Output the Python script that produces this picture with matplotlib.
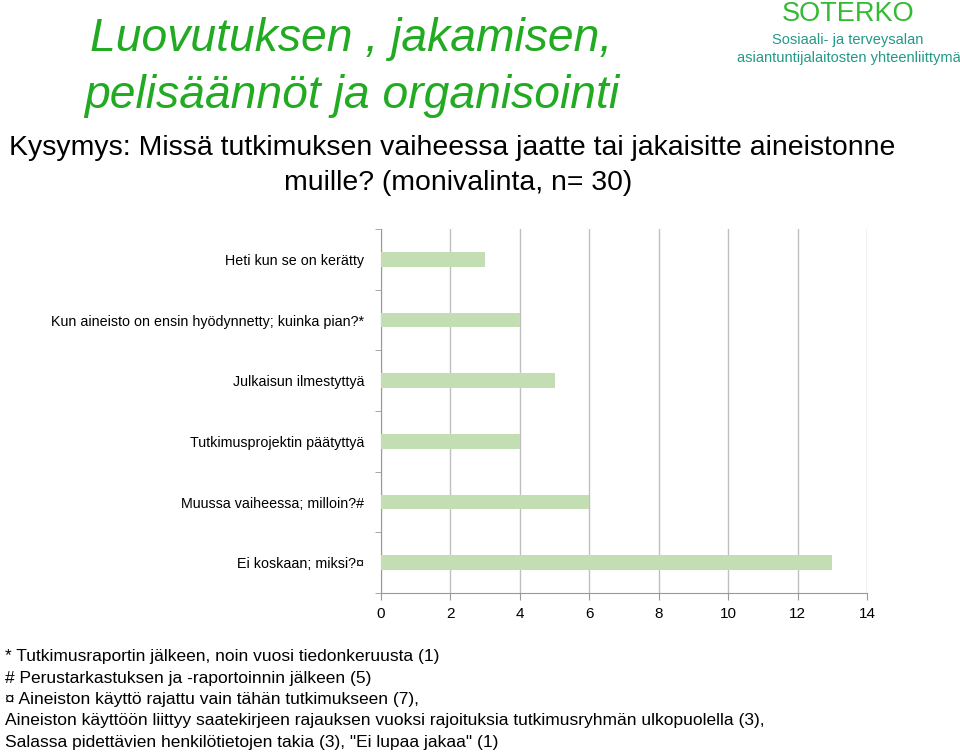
import numpy as np
import matplotlib.pyplot as plt

plt.rcParams['font.family'] = ['Liberation Sans', 'DejaVu Sans']

# data
categories = ['Heti kun se on kerätty',
              'Kun aineisto on ensin hyödynnetty; kuinka pian?*',
              'Julkaisun ilmestyttyä',
              'Tutkimusprojektin päätyttyä',
              'Muussa vaiheessa; milloin?#',
              'Ei koskaan; miksi?¤']
counts = [3, 4, 5, 4, 6, 13]
xticks = [0, 2, 4, 6, 8, 10, 12, 14]

footnotes = ['* Tutkimusraportin jälkeen, noin vuosi tiedonkeruusta (1)',
             '# Perustarkastuksen ja -raportoinnin jälkeen (5)',
             '¤ Aineiston käyttö rajattu vain tähän tutkimukseen (7),',
             'Aineiston käyttöön liittyy saatekirjeen rajauksen vuoksi rajoituksia tutkimusryhmän ulkopuolella (3),',
             'Salassa pidettävien henkilötietojen takia (3), "Ei lupaa jakaa" (1)']

fig = plt.figure(figsize=(9.6, 7.52), dpi=100)

# headings
green = '#22aa22'
fig.text(90 / 960, 1 - 39 / 752, 'Luovutuksen , jakamisen,', color=green, style='italic',
         fontsize=33.3, ha='left', va='center')
fig.text(84 / 960, 1 - 96 / 752, 'pelisäännöt ja organisointi', color=green, style='italic',
         fontsize=33.3, ha='left', va='center')
fig.text(848 / 960, 1 - 14 / 752, 'SOTERKO', color='#33bb33', fontsize=19.5, ha='center', va='center')
fig.text(848 / 960, 1 - 40 / 752, 'Sosiaali- ja terveysalan', color='#229988', fontsize=10.5,
         ha='center', va='center')
fig.text(849 / 960, 1 - 58 / 752, 'asiantuntijalaitosten yhteenliittymä', color='#229988',
         fontsize=10.5, ha='center', va='center')

fig.text(452 / 960, 1 - 148 / 752, 'Kysymys: Missä tutkimuksen vaiheessa jaatte tai jakaisitte aineistonne',
         fontsize=20.4, ha='center', va='center')
fig.text(458 / 960, 1 - 183 / 752, 'muille? (monivalinta, n= 30)', fontsize=20.4, ha='center', va='center')

# chart
ax = fig.add_axes([381 / 960, 1 - 593 / 752, 486 / 960, 364 / 752])
y = np.arange(len(categories))
ax.barh(y, counts, height=0.24, color='#c3deb3', zorder=3)
ax.set_xlim(0, 14)
ax.set_ylim(len(categories) - 0.5, -0.5)
ax.set_xticks(xticks)
ax.set_xticklabels([str(v) for v in xticks], fontsize=11)
ax.set_yticks(y)
ax.set_yticklabels(categories, fontsize=10.3)
ax.set_yticks(np.arange(-0.5, len(categories), 1), minor=True)
ax.tick_params(axis='y', which='major', length=0, pad=12)
ax.tick_params(axis='y', which='minor', length=4, color='#999999', direction='out')
ax.tick_params(axis='x', length=5, color='#999999', direction='out', pad=5)
ax.grid(True, axis='x', color='#c0c0c0', lw=1, zorder=0)
for side in ['top', 'right']:
    ax.spines[side].set_visible(False)
for side in ['left', 'bottom']:
    ax.spines[side].set_color('#999999')

# footnotes
for i, line in enumerate(footnotes):
    fig.text(5 / 960, 1 - (657 + i * 21.3) / 752, line, fontsize=12.5, ha='left', va='center')

plt.savefig('out.png', dpi=100)
